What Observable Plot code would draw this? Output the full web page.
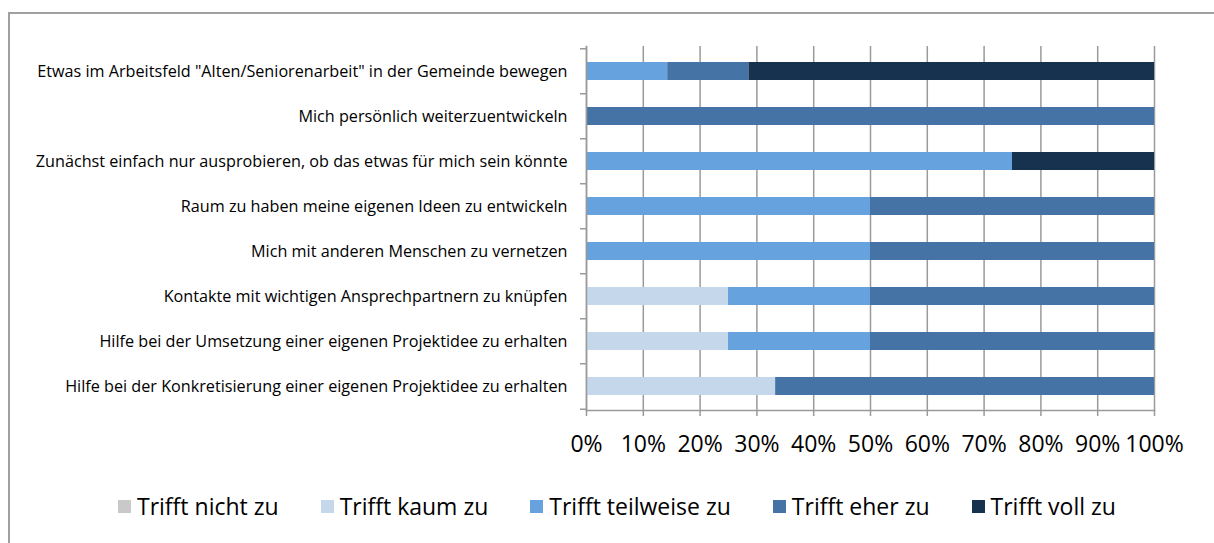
<!DOCTYPE html>
<html>
<head>
<meta charset="utf-8">
<script src="https://cdn.jsdelivr.net/npm/d3@7"></script>
<script src="https://cdn.jsdelivr.net/npm/@observablehq/plot@0.6"></script>
<style>
  html, body { margin: 0; padding: 0; background: #fff; overflow: hidden; width: 1214px; height: 543px; }
  #frame { position: absolute; left: 8px; top: 12px; width: 1400px; height: 800px;
           border-top: 2px solid #a0a0a0; border-left: 2px solid #a0a0a0; box-sizing: border-box; }
  #chart { position: absolute; left: 0; top: 0; }
  #legend { position: absolute; left: 118px; top: 490px; display: flex; gap: 42px;
            font-family: "Open Sans", sans-serif; font-size: 23px; color: #000; white-space: nowrap; }
  .item { display: flex; align-items: center; }
  .sw { width: 13px; height: 13px; margin-right: 6px; }
</style>
</head>
<body>
<div id="frame"></div>
<div id="chart"></div>
<div id="legend"></div>
<script>
const categories = [
  "Etwas im Arbeitsfeld \"Alten/Seniorenarbeit\" in der Gemeinde bewegen",
  "Mich persönlich weiterzuentwickeln",
  "Zunächst einfach nur ausprobieren, ob das etwas für mich sein könnte",
  "Raum zu haben meine eigenen Ideen zu entwickeln",
  "Mich mit anderen Menschen zu vernetzen",
  "Kontakte mit wichtigen Ansprechpartnern zu knüpfen",
  "Hilfe bei der Umsetzung einer eigenen Projektidee zu erhalten",
  "Hilfe bei der Konkretisierung einer eigenen Projektidee zu erhalten"
];
const levels = ["Trifft nicht zu", "Trifft kaum zu", "Trifft teilweise zu", "Trifft eher zu", "Trifft voll zu"];
const colors = ["#c9c9c9", "#c5d7eb", "#65a2de", "#4673a5", "#17324f"];

const nichtZu     = [0, 0, 0, 0, 0, 0, 0, 0];
const kaumZu      = [0, 0, 0, 0, 0, 25, 25, 33.3];
const teilweiseZu = [14.3, 0, 75, 50, 50, 25, 25, 0];
const eherZu      = [14.3, 100, 0, 50, 50, 50, 50, 66.7];
const vollZu      = [71.4, 0, 25, 0, 0, 0, 0, 0];
const xTicks = [0, 10, 20, 30, 40, 50, 60, 70, 80, 90, 100];

const series = [nichtZu, kaumZu, teilweiseZu, eherZu, vollZu];
const rows = [];
categories.forEach((c, i) => {
  levels.forEach((l, j) => rows.push({cat: c, level: l, value: series[j][i]}));
});

const H = 470, mt = 46, mb = 60;
const step = (H - mt - mb) / categories.length;

const chart = Plot.plot({
  width: 1214,
  height: H,
  marginLeft: 586,
  marginRight: 60,
  marginTop: mt,
  marginBottom: mb,
  style: {fontFamily: "Open Sans, sans-serif", background: "transparent", color: "#000"},
  x: {domain: [0, 100]},
  y: {domain: categories, paddingInner: 0.6, paddingOuter: 0.3},
  color: {domain: levels, range: colors},
  marks: [
    Plot.gridX(xTicks, {stroke: "#9a9a9a", strokeOpacity: 1, strokeWidth: 1.5}),
    Plot.barX(rows, Plot.stackX({x: "value", y: "cat", fill: "level", order: levels})),
    Plot.frame({anchor: "left", stroke: "#9a9a9a", strokeWidth: 1.5}),
    Plot.frame({anchor: "bottom", stroke: "#9a9a9a", strokeWidth: 1.5}),
    Plot.axisX(xTicks, {tickSize: 6, tickPadding: 19, fontSize: 23, stroke: "#9a9a9a", strokeWidth: 1.5,
                        fill: "#000", tickFormat: d => d + "%", label: null}),
    Plot.axisY({tickSize: 0, tickPadding: 19, fontSize: 16.2, fill: "#000", label: null}),
    Plot.axisY({tickSize: 6, stroke: "#9a9a9a", strokeWidth: 1.5, tickFormat: () => "", dy: -step / 2, label: null}),
    Plot.axisY(categories.slice(-1), {tickSize: 6, stroke: "#9a9a9a", strokeWidth: 1.5, tickFormat: () => "", dy: step / 2, label: null})
  ]
});
document.getElementById("chart").appendChild(chart);

const legend = document.getElementById("legend");
levels.forEach((l, j) => {
  const it = document.createElement("div");
  it.className = "item";
  const sw = document.createElement("div");
  sw.className = "sw";
  sw.style.background = colors[j];
  const tx = document.createElement("span");
  tx.textContent = l;
  it.appendChild(sw);
  it.appendChild(tx);
  legend.appendChild(it);
});
</script>
</body>
</html>
